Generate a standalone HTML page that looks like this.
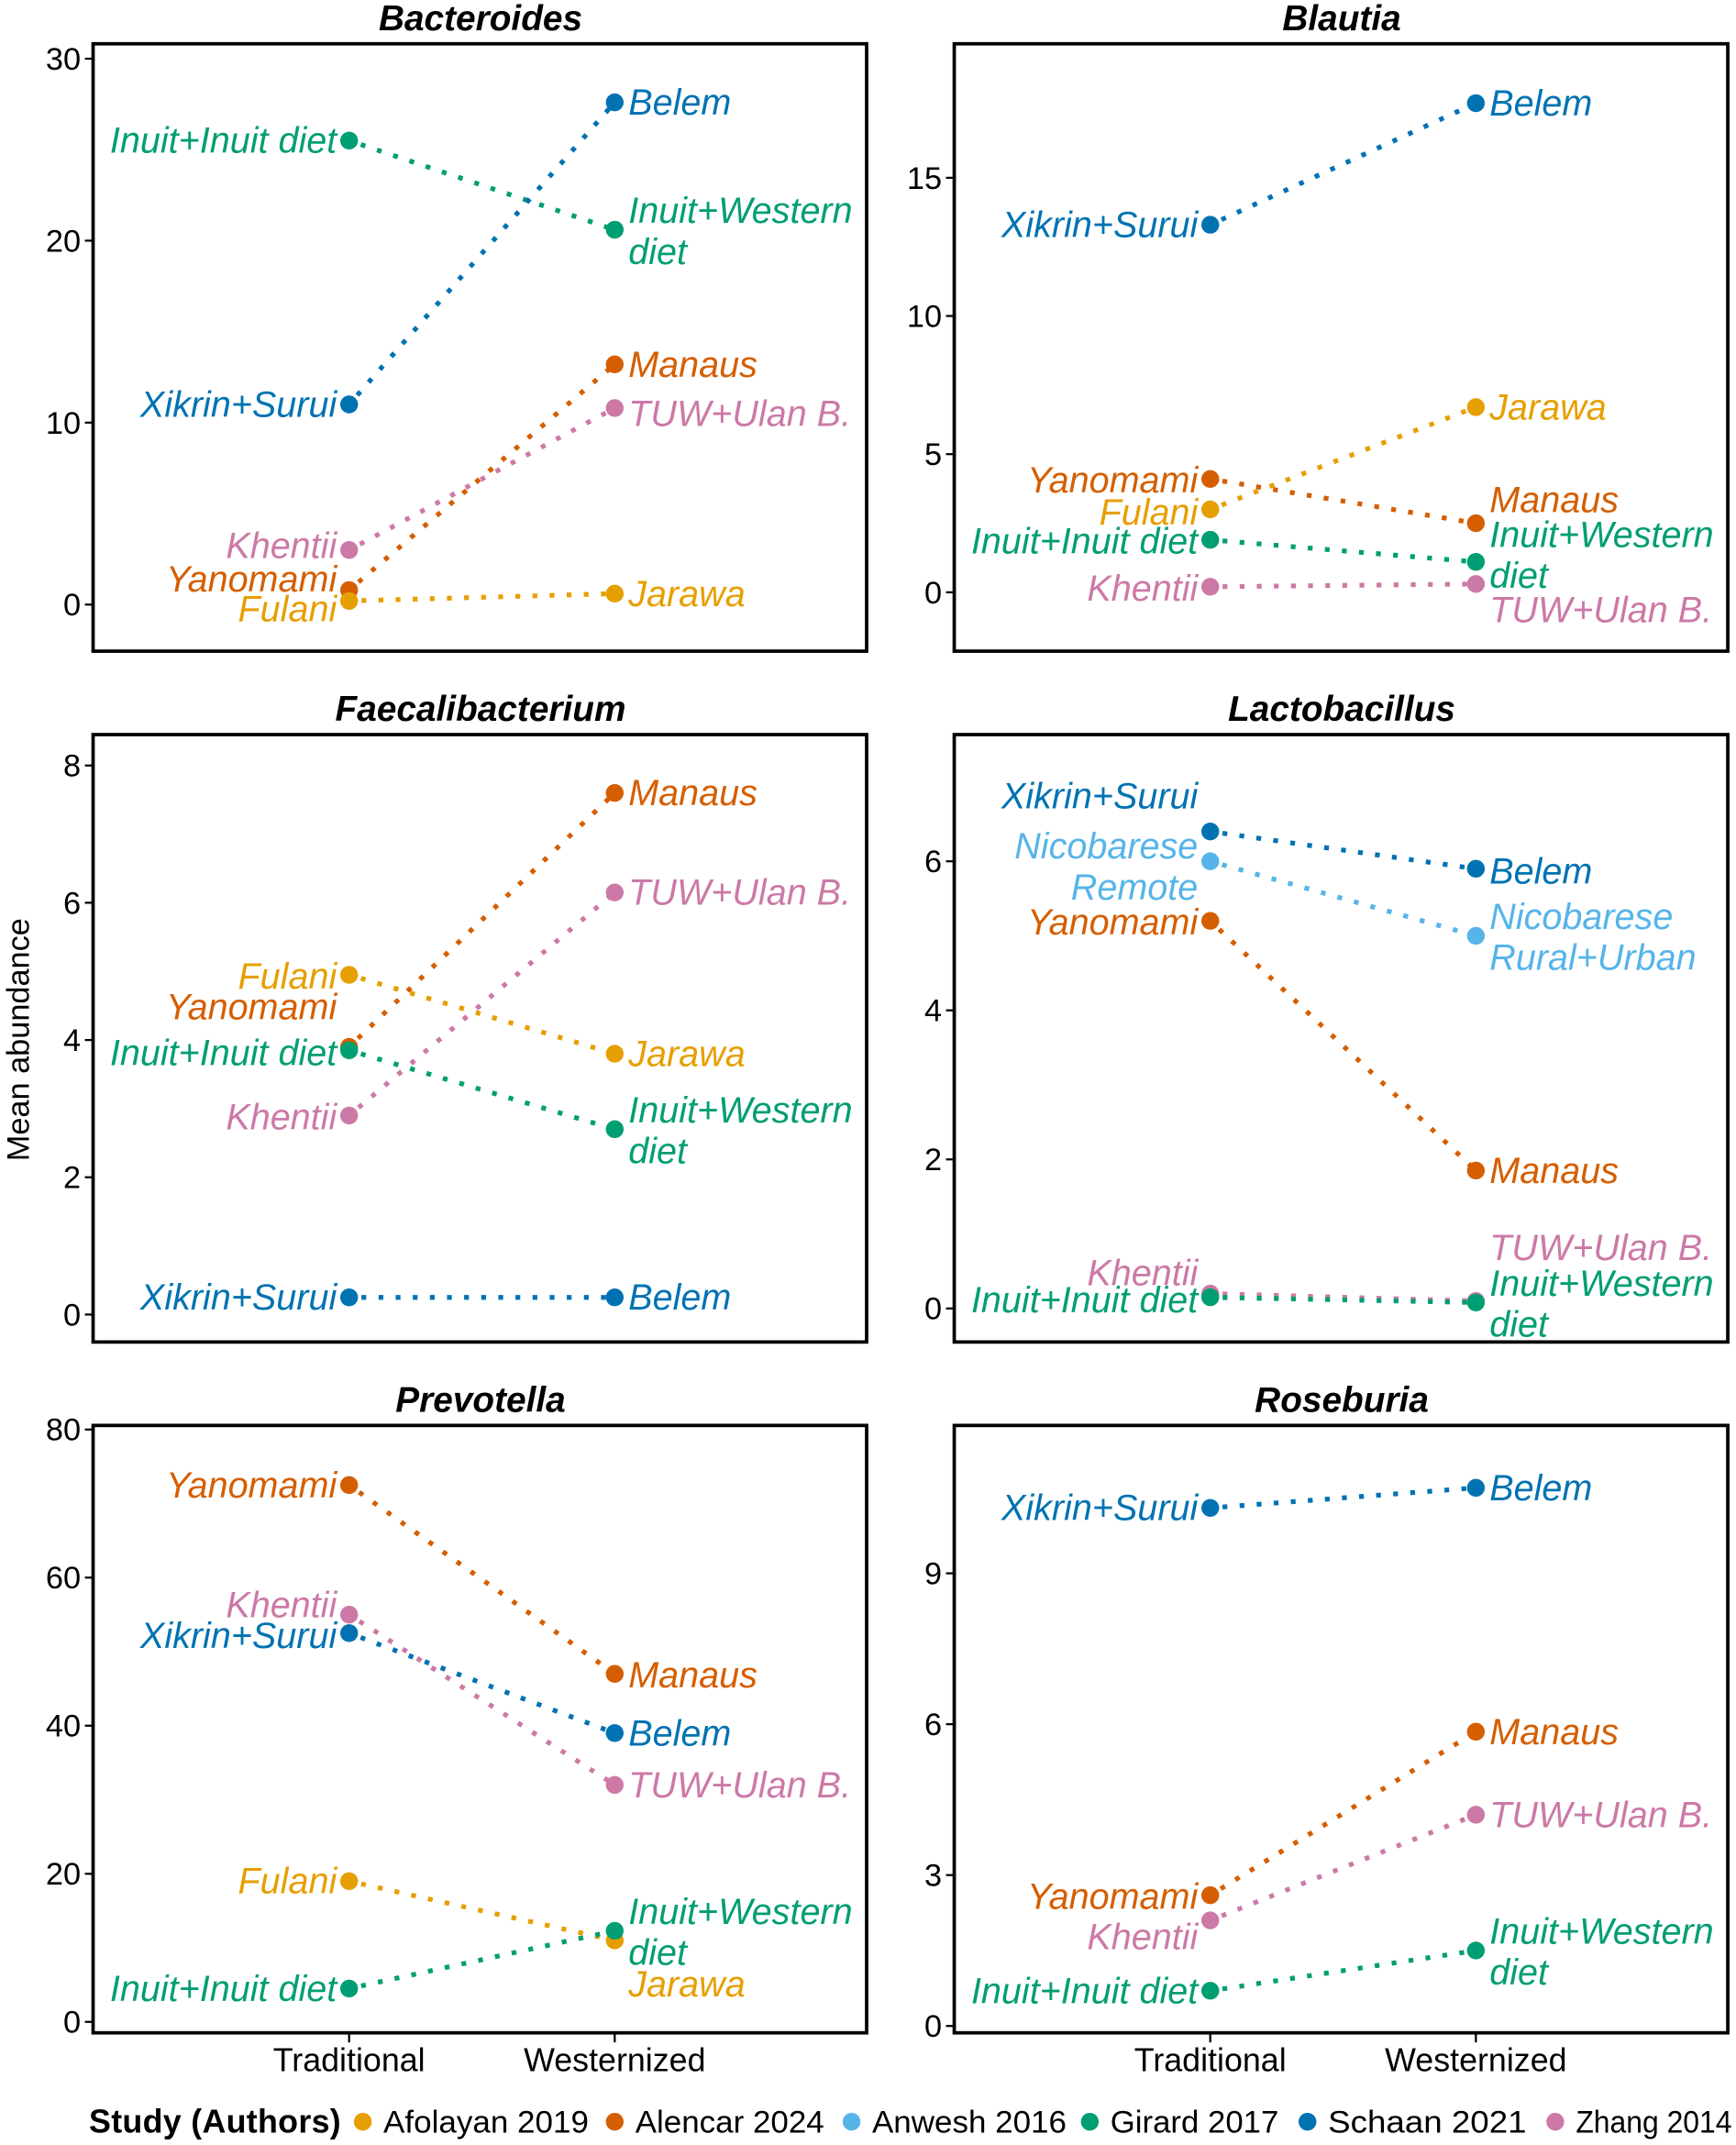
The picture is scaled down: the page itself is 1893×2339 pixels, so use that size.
<!DOCTYPE html>
<html><head><meta charset="utf-8">
<style>
html,body{margin:0;padding:0;background:#fff;}
svg{display:block;}
text{font-family:"Liberation Sans",Arial,sans-serif;}
</style></head>
<body>
<svg id="chart" width="1893" height="2339" viewBox="0 0 1268 1568" preserveAspectRatio="none" xmlns="http://www.w3.org/2000/svg"></svg>
<script>
// ---- data ----
const studies = ["Afolayan 2019","Alencar 2024","Anwesh 2016","Girard 2017","Schaan 2021","Zhang 2014"];
const studyColors = ["#E69F00","#D55E00","#56B4E9","#009E73","#0072B2","#CC79A7"];
const groups = ["Traditional","Westernized"];

const panelTitles = ["Bacteroides","Blautia","Faecalibacterium","Lactobacillus","Prevotella","Roseburia"];
const panelTicks = [[0,10,20,30],[0,5,10,15],[0,2,4,6,8],[0,2,4,6],[0,20,40,60,80],[0,3,6,9]];

const bacStudy = [3,4,5,1,0];
const bacTrad = [25.5,11.0,3.0,0.8,0.2];
const bacWest = [20.6,27.6,10.8,13.2,0.6];
const bacTradLab = ["Inuit+Inuit diet","Xikrin+Surui","Khentii","Yanomami","Fulani"];
const bacWestLab = ["Inuit+Western|diet","Belem","TUW+Ulan B.","Manaus","Jarawa"];

const blaStudy = [4,1,0,3,5];
const blaTrad = [13.3,4.1,3.0,1.9,0.2];
const blaWest = [17.7,2.5,6.7,1.1,0.3];
const blaTradLab = ["Xikrin+Surui","Yanomami","Fulani","Inuit+Inuit diet","Khentii"];
const blaWestLab = ["Belem","Manaus","Jarawa","Inuit+Western|diet","TUW+Ulan B."];

const faeStudy = [0,1,3,5,4];
const faeTrad = [4.95,3.9,3.85,2.9,0.25];
const faeWest = [3.8,7.6,2.7,6.15,0.25];
const faeTradLab = ["Fulani","Yanomami","Inuit+Inuit diet","Khentii","Xikrin+Surui"];
const faeWestLab = ["Jarawa","Manaus","Inuit+Western|diet","TUW+Ulan B.","Belem"];

const lacStudy = [4,2,1,5,3];
const lacTrad = [6.4,6.0,5.2,0.2,0.15];
const lacWest = [5.9,5.0,1.85,0.1,0.08];
const lacTradLab = ["Xikrin+Surui","Nicobarese|Remote","Yanomami","Khentii","Inuit+Inuit diet"];
const lacWestLab = ["Belem","Nicobarese|Rural+Urban","Manaus","TUW+Ulan B.","Inuit+Western|diet"];

const preStudy = [1,5,4,0,3];
const preTrad = [72.5,55,52.5,19,4.5];
const preWest = [47,32,39,11,12.3];
const preTradLab = ["Yanomami","Khentii","Xikrin+Surui","Fulani","Inuit+Inuit diet"];
const preWestLab = ["Manaus","TUW+Ulan B.","Belem","Jarawa","Inuit+Western|diet"];

const rosStudy = [4,1,5,3];
const rosTrad = [10.3,2.6,2.1,0.7];
const rosWest = [10.7,5.85,4.2,1.5];
const rosTradLab = ["Xikrin+Surui","Yanomami","Khentii","Inuit+Inuit diet"];
const rosWestLab = ["Belem","Manaus","TUW+Ulan B.","Inuit+Western|diet"];

// label nudges (pixel layout, not data)
const tradNudge = [[0,0,-3,-8,6],[0,1,2,1,1],[1,-29,2,1,0],[-26,-11,1,-15,2],[0,-7,2,0,0],[0,1,12,0]];
const westNudge = [[-14,0,4,0,0],[0,-17,0,-20,19],[0,0,-14,0,0],[2,-14,0,-39,-14],[1,0,0,32,-14],[0,0,0,-14]];

const panels = [
 [bacStudy,bacTrad,bacWest,bacTradLab,bacWestLab],
 [blaStudy,blaTrad,blaWest,blaTradLab,blaWestLab],
 [faeStudy,faeTrad,faeWest,faeTradLab,faeWestLab],
 [lacStudy,lacTrad,lacWest,lacTradLab,lacWestLab],
 [preStudy,preTrad,preWest,preTradLab,preWestLab],
 [rosStudy,rosTrad,rosWest,rosTradLab,rosWestLab]
];
const panelDomain = [[-2.56,30.82],[-2.13,19.85],[-0.4,8.45],[-0.45,7.7],[-1.48,80.55],[-0.136,11.94]];

const NS="http://www.w3.org/2000/svg";
const svg=document.getElementById('chart');
function mk(tag,attrs,parent){const e=document.createElementNS(NS,tag);for(const k in attrs)e.setAttribute(k,attrs[k]);(parent||svg).appendChild(e);return e;}

const colX=[68,697], rowY=[32,537,1042], boxW=565, boxH=444;
const catOff=[187,381];

panels.forEach((p,pi)=>{
  const bx=colX[pi%2], by=rowY[Math.floor(pi/2)];
  const [d0,d1]=panelDomain[pi];
  const y=v=>by+boxH-(v-d0)/(d1-d0)*boxH;
  const x=c=>bx+catOff[c];
  const g=mk('g',{});
  
  
  const t=mk('text',{x:bx+283,y:by-10,'text-anchor':'middle','font-size':26,'font-weight':'bold','font-style':'italic'},g);
  t.textContent=panelTitles[pi];
  
  
  const r=mk('rect',{x:bx,y:by,width:boxW,height:boxH,fill:'none',stroke:'#000','stroke-width':2.5},g);
  
  
  panelTicks[pi].forEach(tv=>{
    const ty=y(tv);
    const tk=mk('line',{x1:bx-6,x2:bx,y1:ty,y2:ty,stroke:'#000','stroke-width':1.5},g);
    
    
    const tl=mk('text',{x:bx-9,y:ty+8,'text-anchor':'end','font-size':23},g);
    tl.textContent=tv;
    
    
  });
  const [st,tr,we,tlab,wlab]=p;
  st.forEach((s,i)=>{
    const col=studyColors[s];
    const ln=mk('line',{x1:x(0),y1:y(tr[i]),x2:x(1),y2:y(we[i]),stroke:col,'stroke-width':3.5,'stroke-dasharray':'3.5 9','stroke-dashoffset':-9},g);
    
    
  });
  st.forEach((s,i)=>{
    const col=studyColors[s];
    [[0,tr[i],tlab[i],tradNudge[pi][i]],[1,we[i],wlab[i],westNudge[pi][i]]].forEach(([c,v,lab,nd])=>{
      const pt=mk('circle',{cx:x(c),cy:y(v),r:6.5,fill:col},g);
      
      
      const lines=lab.split('|');
      lines.forEach((L,li)=>{
        const tx=mk('text',{x:c?x(c)+10:x(c)-9,y:y(v)+nd+li*30+9,'text-anchor':c?'start':'end','font-size':26.5,'font-style':'italic',fill:col},g);
        tx.textContent=L;
        
        
      });
    });
  });
  if(pi>=4){
    groups.forEach((gname,c)=>{
      const tk=mk('line',{x1:x(c),x2:x(c),y1:by+boxH,y2:by+boxH+7,stroke:'#000','stroke-width':1.5},g);
      
      
      const tl=mk('text',{x:x(c),y:by+boxH+28,'text-anchor':'middle','font-size':24},g);
      tl.textContent=gname;
      
      
    });
  }
});

const yt=mk('text',{x:0,y:0,transform:'translate(21,760) rotate(-90)','text-anchor':'middle','font-size':23});
yt.textContent='Mean abundance';



const lg=mk('g',{});


const lt=mk('text',{x:65,y:1559,'font-size':24,'font-weight':'bold','textLength':184},lg);
lt.textContent='Study (Authors)';


const legDotX=[265,449,622,796,955,1136];
const legTextW=[150,138,142,123,145,114];
studies.forEach((s,i)=>{
  const e=mk('g',{},lg);
  
  
  mk('circle',{cx:legDotX[i],cy:1551,r:6.5,fill:studyColors[i]},e);
  const tx=mk('text',{x:legDotX[i]+15,y:1559,'font-size':23,textLength:legTextW[i],lengthAdjust:'spacingAndGlyphs'},e);
  tx.textContent=s;
});
</script>
</body></html>
